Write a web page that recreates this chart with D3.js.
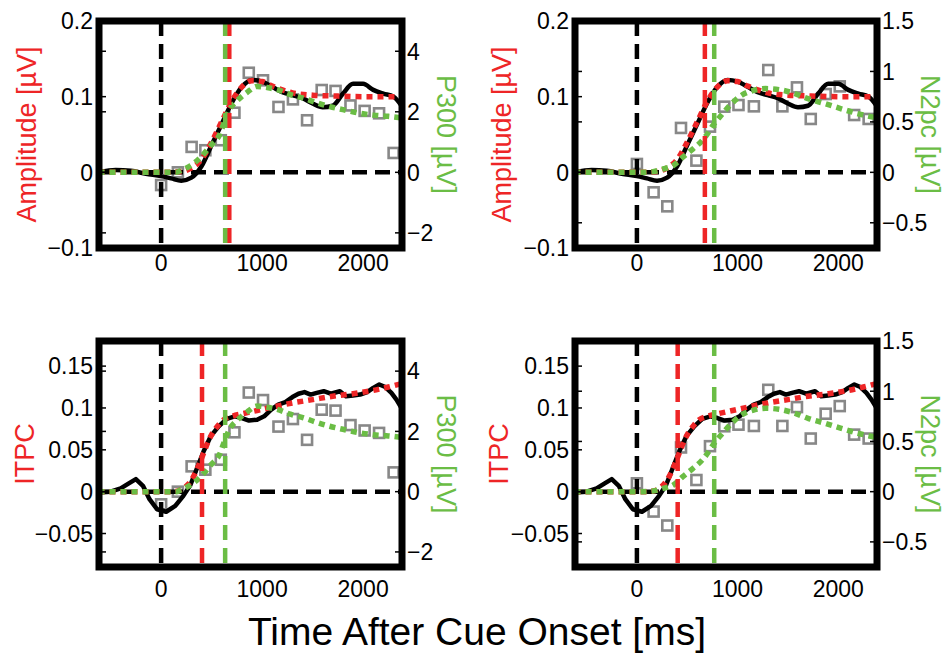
<!DOCTYPE html>
<html>
<head>
<meta charset="utf-8">
<script src="https://cdn.jsdelivr.net/npm/d3@7"></script>
<style>
  body { margin: 0; background: #fff; }
  svg { display: block; font-family: "Liberation Sans", Arial, Helvetica, sans-serif; }
</style>
</head>
<body>
<div id="chart"></div>
<script>
// ---- data ----
// Amplitude (black) and its fit (red), top panels
const ampTime = [-620, -450, -300, -150, 0, 100, 200, 300, 400, 500, 600, 700, 800, 900, 1000, 1100, 1200, 1300, 1400, 1500, 1600, 1700, 1800, 1900, 2000, 2100, 2200, 2300, 2380];
const ampValue = [0, 0.003, 0.002, -0.002, -0.005, -0.008, -0.011, -0.007, 0.008, 0.036, 0.064, 0.092, 0.113, 0.122, 0.120, 0.113, 0.106, 0.102, 0.098, 0.091, 0.086, 0.088, 0.104, 0.117, 0.117, 0.109, 0.104, 0.100, 0.088];
const ampFitTime = [-620, 0, 200, 300, 400, 500, 600, 700, 800, 900, 1000, 1100, 1200, 1300, 1500, 1700, 2000, 2380];
const ampFit = [0, 0, 0.001, 0.006, 0.017, 0.040, 0.067, 0.094, 0.113, 0.121, 0.120, 0.114, 0.109, 0.105, 0.102, 0.101, 0.100, 0.100];

// ITPC (black) and its fit (red), bottom panels
const itpcTime = [-620, -500, -400, -320, -250, -180, -115, -40, 50, 140, 220, 290, 355, 420, 490, 570, 650, 730, 800, 870, 950, 1020, 1090, 1160, 1230, 1300, 1360, 1420, 1480, 1540, 1610, 1680, 1770, 1830, 1900, 1970, 2040, 2100, 2160, 2220, 2280, 2330, 2380];
const itpcValue = [-0.001, 0, 0.004, 0.010, 0.015, 0.007, -0.009, -0.021, -0.024, -0.017, -0.005, 0.008, 0.028, 0.048, 0.066, 0.078, 0.087, 0.090, 0.088, 0.085, 0.086, 0.090, 0.098, 0.104, 0.107, 0.113, 0.117, 0.119, 0.116, 0.118, 0.120, 0.117, 0.120, 0.114, 0.115, 0.116, 0.119, 0.124, 0.128, 0.125, 0.118, 0.110, 0.100];
const itpcFitTime = [-620, 100, 170, 220, 270, 320, 370, 420, 470, 520, 570, 620, 700, 800, 950, 1100, 1300, 1500, 1700, 1900, 2100, 2250, 2380];
const itpcFit = [0, 0, 0.001, 0.004, 0.009, 0.018, 0.031, 0.046, 0.061, 0.072, 0.080, 0.086, 0.090, 0.093, 0.097, 0.101, 0.106, 0.110, 0.114, 0.117, 0.121, 0.125, 0.129];

// ERP components (grey squares) and their fits (green)
const binTime = [0, 166, 302, 438, 591, 726, 868, 1009, 1162, 1305, 1445, 1590, 1727, 1875, 2015, 2158, 2302];
const p300Value = [-0.42, 0.0, 0.84, 0.73, 1.06, 1.97, 3.29, 3.04, 2.16, 2.41, 1.72, 2.72, 2.69, 2.21, 2.03, 1.95, 0.64];
const n2pcValue = [0.083, -0.198, -0.337, 0.44, 0.116, 0.453, 0.651, 0.667, 0.654, 1.014, 0.654, 0.842, 0.529, 0.776, 0.852, 0.568, 0.529];

const p300FitTime = [-620, 150, 190, 290, 390, 490, 580, 630, 680, 750, 850, 950, 1050, 1150, 1280, 1410, 1540, 1670, 1800, 1940, 2100, 2250, 2380];
const p300Fit = [0, 0, 0.05, 0.22, 0.49, 0.88, 1.25, 1.70, 2.09, 2.36, 2.64, 2.84, 2.80, 2.73, 2.57, 2.45, 2.30, 2.17, 2.07, 1.97, 1.89, 1.85, 1.80];
const n2pcFitTime = [-620, 30, 160, 260, 360, 456, 555, 653, 700, 752, 850, 950, 1050, 1150, 1280, 1410, 1540, 1700, 1870, 2030, 2200, 2380];
const n2pcFit = [0, 0, 0.007, 0.033, 0.066, 0.15, 0.23, 0.32, 0.38, 0.46, 0.58, 0.69, 0.77, 0.81, 0.83, 0.82, 0.79, 0.73, 0.68, 0.63, 0.58, 0.54];

// onset latencies (vertical dashed lines)
const ampLatency = 675;
const itpcLatency = 405;
const p300Latency = 634;
const n2pcLatency = 768;

// axes
const timeDomain = [-615, 2385];
const timeTicks = [0, 1000, 2000];
const ampDomain = [-0.1, 0.2];
const ampTicks = [-0.1, 0, 0.1, 0.2];
const itpcDomain = [-0.09, 0.18];
const itpcTicks = [-0.05, 0, 0.05, 0.1, 0.15];
const p300Domain = [-2.5, 5];
const p300Ticks = [-2, 0, 2, 4];
const n2pcDomain = [-0.75, 1.5];
const n2pcTicks = [-0.5, 0, 0.5, 1, 1.5];

// ---- layout ----
const width = 946;
const height = 653;
const RED = "#ee2526";
const GREEN = "#6bbd45";
const GREY = "#888888";

const panels = [
  { box: { x0: 99, x1: 402, y0: 21, y1: 248 }, leftTitleX: 26, rightTitleX: 447, xLabelGap: 15,
    leftDomain: ampDomain, leftTicks: ampTicks, leftTitle: "Amplitude [µV]",
    rightDomain: p300Domain, rightTicks: p300Ticks, rightTitle: "P300 [µV]",
    black: d3.zip(ampTime, ampValue), red: d3.zip(ampFitTime, ampFit), blackCurve: d3.curveMonotoneX,
    squares: d3.zip(binTime, p300Value), green: d3.zip(p300FitTime, p300Fit),
    redLat: ampLatency, greenLat: p300Latency },
  { box: { x0: 575, x1: 877, y0: 21, y1: 248 }, leftTitleX: 501, rightTitleX: 931, xLabelGap: 15,
    leftDomain: ampDomain, leftTicks: ampTicks, leftTitle: "Amplitude [µV]",
    rightDomain: n2pcDomain, rightTicks: n2pcTicks, rightTitle: "N2pc [µV]",
    black: d3.zip(ampTime, ampValue), red: d3.zip(ampFitTime, ampFit), blackCurve: d3.curveMonotoneX,
    squares: d3.zip(binTime, n2pcValue), green: d3.zip(n2pcFitTime, n2pcFit),
    redLat: ampLatency, greenLat: n2pcLatency },
  { box: { x0: 99, x1: 402, y0: 341, y1: 567 }, leftTitleX: 24, rightTitleX: 447, xLabelGap: 22,
    leftDomain: itpcDomain, leftTicks: itpcTicks, leftTitle: "ITPC",
    rightDomain: p300Domain, rightTicks: p300Ticks, rightTitle: "P300 [µV]",
    black: d3.zip(itpcTime, itpcValue), red: d3.zip(itpcFitTime, itpcFit), blackCurve: d3.curveLinear,
    squares: d3.zip(binTime, p300Value), green: d3.zip(p300FitTime, p300Fit),
    redLat: itpcLatency, greenLat: p300Latency },
  { box: { x0: 575, x1: 877, y0: 341, y1: 567 }, leftTitleX: 498, rightTitleX: 931, xLabelGap: 22,
    leftDomain: itpcDomain, leftTicks: itpcTicks, leftTitle: "ITPC",
    rightDomain: n2pcDomain, rightTicks: n2pcTicks, rightTitle: "N2pc [µV]",
    black: d3.zip(itpcTime, itpcValue), red: d3.zip(itpcFitTime, itpcFit), blackCurve: d3.curveLinear,
    squares: d3.zip(binTime, n2pcValue), green: d3.zip(n2pcFitTime, n2pcFit),
    redLat: itpcLatency, greenLat: n2pcLatency },
];

const fmt = (d) => (d === 0 ? "0" : (d < 0 ? "\u2212" : "") + Math.abs(d));

const svg = d3.select("#chart").append("svg")
  .attr("width", width)
  .attr("height", height);

panels.forEach((p, i) => {
  const b = p.box;
  const x = d3.scaleLinear().domain(timeDomain).range([b.x0, b.x1]);
  const yL = d3.scaleLinear().domain(p.leftDomain).range([b.y1, b.y0]);
  const yR = d3.scaleLinear().domain(p.rightDomain).range([b.y1, b.y0]);

  svg.append("clipPath").attr("id", `clip${i}`)
    .append("rect")
    .attr("x", b.x0).attr("y", b.y0)
    .attr("width", b.x1 - b.x0).attr("height", b.y1 - b.y0);

  const g = svg.append("g").attr("clip-path", `url(#clip${i})`);

  // grey squares (component amplitude per bin)
  const sq = 10;
  g.selectAll(".sq").data(p.squares).join("rect")
    .attr("x", (d) => x(d[0]) - sq / 2)
    .attr("y", (d) => yR(d[1]) - sq / 2)
    .attr("width", sq).attr("height", sq)
    .attr("fill", "none")
    .attr("stroke", GREY)
    .attr("stroke-width", 2.6);

  // zero lines
  g.append("line")
    .attr("x1", b.x0).attr("x2", b.x1)
    .attr("y1", yL(0)).attr("y2", yL(0))
    .attr("stroke", "#000").attr("stroke-width", 4.5)
    .attr("stroke-dasharray", "15,8");
  g.append("line")
    .attr("x1", x(0)).attr("x2", x(0))
    .attr("y1", b.y0).attr("y2", b.y1)
    .attr("stroke", "#000").attr("stroke-width", 4.5)
    .attr("stroke-dasharray", "15,8");

  // black measured curve
  g.append("path")
    .datum(p.black)
    .attr("fill", "none")
    .attr("stroke", "#000")
    .attr("stroke-width", 4.5)
    .attr("stroke-linejoin", "round")
    .attr("d", d3.line().x((d) => x(d[0])).y((d) => yL(d[1])).curve(p.blackCurve));

  // red fit
  g.append("path")
    .datum(p.red)
    .attr("fill", "none")
    .attr("stroke", RED)
    .attr("stroke-width", 5.5)
    .attr("stroke-dasharray", "6,5")
    .attr("d", d3.line().x((d) => x(d[0])).y((d) => yL(d[1])).curve(d3.curveMonotoneX));

  // green fit
  g.append("path")
    .datum(p.green)
    .attr("fill", "none")
    .attr("stroke", GREEN)
    .attr("stroke-width", 5.5)
    .attr("stroke-dasharray", "6,5")
    .attr("d", d3.line().x((d) => x(d[0])).y((d) => yR(d[1])).curve(d3.curveMonotoneX));

  // latency markers
  [[p.redLat, RED], [p.greenLat, GREEN]].forEach(([lat, col]) => {
    g.append("line")
      .attr("x1", x(lat)).attr("x2", x(lat))
      .attr("y1", b.y0).attr("y2", b.y1)
      .attr("stroke", col).attr("stroke-width", 4.5)
      .attr("stroke-dasharray", "15,8");
  });

  // inward ticks (both sides, as with a boxed double-y axes)
  const tk = svg.append("g").attr("stroke", "#000").attr("stroke-width", 1.5);
  p.leftTicks.forEach((t) => {
    tk.append("line").attr("x1", b.x0).attr("x2", b.x0 + 7).attr("y1", yL(t)).attr("y2", yL(t));
  });
  p.rightTicks.forEach((t) => {
    tk.append("line").attr("x1", b.x1).attr("x2", b.x1 - 7).attr("y1", yR(t)).attr("y2", yR(t));
    tk.append("line").attr("x1", b.x0).attr("x2", b.x0 + 7).attr("y1", yR(t)).attr("y2", yR(t));
  });

  // frame
  svg.append("rect")
    .attr("x", b.x0).attr("y", b.y0)
    .attr("width", b.x1 - b.x0).attr("height", b.y1 - b.y0)
    .attr("fill", "none")
    .attr("stroke", "#000")
    .attr("stroke-width", 7);

  // tick labels
  const lab = svg.append("g").style("font-size", "23px").attr("fill", "#000");
  p.leftTicks.forEach((t) => {
    lab.append("text").attr("x", b.x0 - 6).attr("y", yL(t)).attr("dy", "0.36em")
      .attr("text-anchor", "end").text(fmt(t));
  });
  p.rightTicks.forEach((t) => {
    lab.append("text").attr("x", b.x1 + 5).attr("y", yR(t)).attr("dy", "0.36em")
      .attr("text-anchor", "start").text(fmt(t));
  });
  timeTicks.forEach((t) => {
    lab.append("text").attr("x", x(t)).attr("y", b.y1 + p.xLabelGap).attr("dy", "0.36em")
      .attr("text-anchor", "middle").text(fmt(t));
  });

  // axis titles
  const cy = (b.y0 + b.y1) / 2;
  svg.append("text")
    .attr("transform", `translate(${p.leftTitleX},${cy}) rotate(-90)`)
    .attr("dy", "0.36em")
    .attr("text-anchor", "middle")
    .attr("fill", RED)
    .style("font-size", "27px")
    .text(p.leftTitle);
  svg.append("text")
    .attr("transform", `translate(${p.rightTitleX},${cy}) rotate(90)`)
    .attr("dy", "0.36em")
    .attr("text-anchor", "middle")
    .attr("fill", GREEN)
    .style("font-size", "27px")
    .text(p.rightTitle);
});

svg.append("text")
  .attr("x", 477)
  .attr("y", 645)
  .attr("text-anchor", "middle")
  .attr("fill", "#000")
  .style("font-size", "39px")
  .text("Time After Cue Onset [ms]");
</script>
</body>
</html>
